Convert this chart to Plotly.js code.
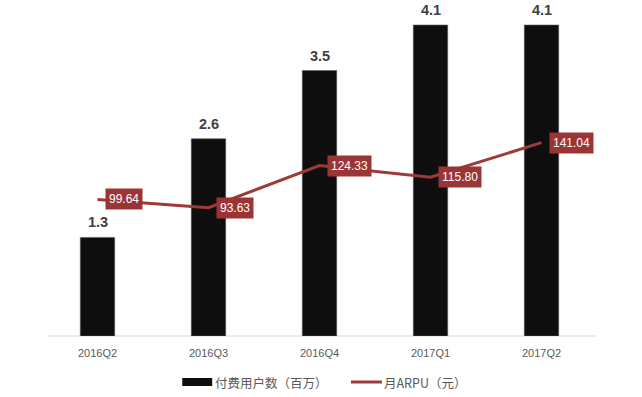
<!DOCTYPE html>
<html>
<head>
<meta charset="utf-8">
<script src="https://cdn.plot.ly/plotly-3.0.1.min.js"></script>
<style>html,body{margin:0;padding:0;background:#fff;}#chart{width:642px;height:397px;}</style>
</head>
<body>
<div id="chart"></div>
<script>
const quarters = ['2016Q2', '2016Q3', '2016Q4', '2017Q1', '2017Q2'];
const payingUsers = [1.3, 2.6, 3.5, 4.1, 4.1];
const monthlyArpu = [99.64, 93.63, 124.33, 115.80, 141.04];
const userLabels = ['1.3', '2.6', '3.5', '4.1', '4.1'];
const arpuLabels = ['99.64', '93.63', '124.33', '115.80', '141.04'];
const barName = '付费用户数（百万）';
const lineName = '月ARPU（元）';

const barColor = '#0e0e0e';
const lineColor = '#9d3a3a';
const boxColor = '#9b3535';
const numFont = 'Liberation Sans, Arial, sans-serif';
const cjkFont = 'Noto Sans CJK SC, Liberation Sans, sans-serif';

const traces = [
  {
    type: 'bar', x: quarters, y: payingUsers, name: barName,
    marker: {color: barColor, line: {color: '#5a5a5a', width: 0.6}},
    width: 0.31, yaxis: 'y', showlegend: false, hoverinfo: 'skip'
  },
  {
    type: 'scatter', mode: 'lines', x: quarters, y: monthlyArpu, name: lineName,
    line: {color: lineColor, width: 3}, yaxis: 'y2', showlegend: false, hoverinfo: 'skip'
  }
];

const annotations = [];
quarters.forEach((q, i) => {
  annotations.push({
    x: q, y: payingUsers[i], xref: 'x', yref: 'y', text: '<b>' + userLabels[i] + '</b>',
    showarrow: false, yanchor: 'middle', yshift: 15, borderpad: 0,
    font: {family: numFont, size: 14.5, color: '#404040'}
  });
  annotations.push({
    x: q, y: monthlyArpu[i], xref: 'x', yref: 'y2', text: arpuLabels[i],
    showarrow: false, xanchor: 'left', yanchor: 'middle', xshift: 7,
    bgcolor: boxColor, borderpad: 3,
    font: {family: numFont, size: 12, color: '#ffffff'}
  });
});

// axis baseline and custom legend (paper coordinates)
const px = v => (v - 41.5) / 556;
const py = v => (336 - v) / 326;
const shapes = [
  {type: 'line', xref: 'paper', yref: 'paper', x0: px(47), x1: px(597), y0: 0, y1: 0,
   line: {color: '#d9d9d9', width: 1}, layer: 'below'},
  {type: 'rect', xref: 'paper', yref: 'paper', x0: px(182), x1: px(212), y0: py(386), y1: py(378),
   fillcolor: barColor, line: {width: 0}},
  {type: 'line', xref: 'paper', yref: 'paper', x0: px(351), x1: px(382), y0: py(382), y1: py(382),
   line: {color: lineColor, width: 3}}
];
annotations.push({
  xref: 'paper', yref: 'paper', x: px(213), y: py(382), xanchor: 'left', yanchor: 'middle',
  text: barName, showarrow: false, font: {family: cjkFont, size: 12.5, color: '#595959'}
});
annotations.push({
  xref: 'paper', yref: 'paper', x: px(382), y: py(382), xanchor: 'left', yanchor: 'middle',
  text: lineName, showarrow: false, font: {family: cjkFont, size: 12.5, color: '#595959'}
});

const layout = {
  width: 642, height: 397,
  margin: {l: 41.5, r: 44.5, t: 10, b: 61, pad: 0},
  paper_bgcolor: '#ffffff', plot_bgcolor: '#ffffff',
  showlegend: false,
  xaxis: {
    type: 'category', showline: false,
    ticks: 'outside', ticklen: 7, tickcolor: 'rgba(0,0,0,0)',
    tickfont: {family: numFont, size: 11, color: '#595959'},
    showgrid: false, zeroline: false, fixedrange: true
  },
  yaxis: {range: [0, 4.298], visible: false, showgrid: false, zeroline: false, fixedrange: true},
  yaxis2: {range: [0, 237.8], overlaying: 'y', side: 'right', visible: false, showgrid: false, zeroline: false, fixedrange: true},
  annotations: annotations,
  shapes: shapes
};

Plotly.newPlot('chart', traces, layout, {displayModeBar: false, staticPlot: true});
</script>
</body>
</html>
